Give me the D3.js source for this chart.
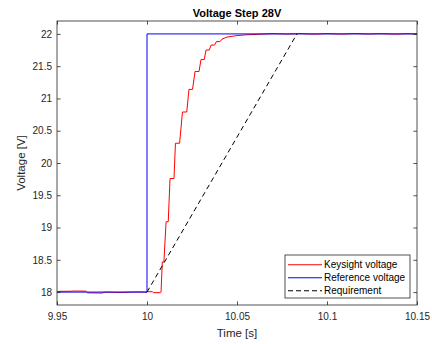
<!DOCTYPE html>
<html>
<head>
<meta charset="utf-8">
<script src="https://cdn.jsdelivr.net/npm/d3@7/dist/d3.min.js"></script>
<style>
  html, body { margin: 0; padding: 0; background: #fff; }
  svg { display: block; font-family: "Liberation Sans", Arial, Helvetica, sans-serif; }
</style>
</head>
<body>
<svg id="chart" width="432" height="344"></svg>
<script>
// Axis ticks
const timeTicks = [9.95, 10, 10.05, 10.1, 10.15];
const timeTickLabels = ["9.95", "10", "10.05", "10.1", "10.15"];
const voltTicks = [18, 18.5, 19, 19.5, 20, 20.5, 21, 21.5, 22];
const voltTickLabels = ["18", "18.5", "19", "19.5", "20", "20.5", "21", "21.5", "22"];

// Measured supply output (Keysight)
const keysightTime = [
  9.95, 9.951, 9.958, 9.958, 9.966, 9.967, 9.975, 9.977, 9.985, 9.99, 9.995, 10.0,
  10.0003, 10.003, 10.0035, 10.0075, 10.0078,
  10.0085, 10.0094, 10.0106, 10.0118, 10.0128, 10.015, 10.0158, 10.0181,
  10.0197, 10.0221, 10.0233, 10.0253, 10.0267, 10.0289, 10.030, 10.0318,
  10.0328, 10.0346, 10.0356, 10.0375, 10.0386, 10.0406, 10.0417, 10.0444,
  10.0489, 10.0544, 10.0628, 10.07, 10.078, 10.085, 10.093, 10.10, 10.108,
  10.115, 10.123, 10.13, 10.138, 10.145, 10.15
];
const keysightVolt = [
  18.0, 18.012, 18.013, 18.016, 18.015, 17.988, 17.985, 18.0, 17.995, 18.0, 18.003, 18.0,
  18.006, 18.006, 17.992, 17.99, 18.0,
  18.468, 18.47, 19.09, 19.09, 19.76, 19.76, 20.306, 20.306,
  20.79, 20.79, 21.14, 21.14, 21.418, 21.418, 21.603, 21.603,
  21.75, 21.75, 21.827, 21.827, 21.881, 21.881, 21.92, 21.95,
  21.97, 21.985, 21.995, 22.004, 21.997, 22.005, 21.996, 22.004, 21.997,
  22.005, 21.998, 22.004, 21.996, 22.003, 22.0
];

// Commanded reference step
const referenceTime = [9.95, 10.0, 10.0, 10.15];
const referenceVolt = [18, 18, 22, 22];

// Slew-rate requirement ramp
const requirementTime = [10.0, 10.0833];
const requirementVolt = [18, 22];

const legendLabels = ["Keysight voltage", "Reference voltage", "Requirement"];

const svg = d3.select("#chart");
const margin = { left: 57, right: 15, top: 21, bottom: 39 };
const W = 432, H = 344;
const x0 = margin.left, x1 = W - margin.right, y0 = margin.top, y1 = H - margin.bottom;

const x = d3.scaleLinear().domain([9.95, 10.15]).range([x0, x1]);
const y = d3.scaleLinear().domain([17.8, 22.2]).range([y1, y0]);

const axisColor = "#262626";
const tickLen = 3.6;

// Plot area background
svg.append("rect").attr("x", x0).attr("y", y0).attr("width", x1 - x0).attr("height", y1 - y0)
  .attr("fill", "#fff");

// Series
svg.append("clipPath").attr("id", "plot-clip")
  .append("rect").attr("x", x0).attr("y", y0).attr("width", x1 - x0).attr("height", y1 - y0);
const plot = svg.append("g").attr("clip-path", "url(#plot-clip)");

const line = d3.line().x(d => x(d[0])).y(d => y(d[1]));

plot.append("path")
  .datum(d3.zip(keysightTime, keysightVolt))
  .attr("d", line).attr("fill", "none").attr("stroke", "#ff0000").attr("stroke-width", 1);

plot.append("path")
  .datum(d3.zip(referenceTime, referenceVolt))
  .attr("d", line).attr("fill", "none").attr("stroke", "#0000ff").attr("stroke-width", 1);

plot.append("path")
  .datum(d3.zip(requirementTime, requirementVolt))
  .attr("d", line).attr("fill", "none").attr("stroke", "#000").attr("stroke-width", 1)
  .attr("stroke-dasharray", "5,3.5");

// Axes (ticks point inward, box on)
const fmtX = d => timeTickLabels[timeTicks.indexOf(d)];
const fmtY = d => voltTickLabels[voltTicks.indexOf(d)];

function styleAxis(g, showText) {
  g.select(".domain").remove();
  g.selectAll(".tick line").attr("stroke", axisColor).attr("stroke-width", 0.8);
  g.selectAll(".tick text").attr("fill", axisColor).attr("font-size", 10);
  if (!showText) g.selectAll(".tick text").remove();
}

svg.append("g").attr("transform", `translate(0,${y1})`)
  .call(d3.axisBottom(x).tickValues(timeTicks).tickFormat(fmtX).tickSizeInner(-tickLen).tickSizeOuter(0).tickPadding(8))
  .call(g => styleAxis(g, true));
svg.append("g").attr("transform", `translate(0,${y0})`)
  .call(d3.axisTop(x).tickValues(timeTicks).tickFormat(fmtX).tickSizeInner(-tickLen).tickSizeOuter(0))
  .call(g => styleAxis(g, false));
svg.append("g").attr("transform", `translate(${x0},0)`)
  .call(d3.axisLeft(y).tickValues(voltTicks).tickFormat(fmtY).tickSizeInner(-tickLen).tickSizeOuter(0).tickPadding(5))
  .call(g => styleAxis(g, true));
svg.append("g").attr("transform", `translate(${x1},0)`)
  .call(d3.axisRight(y).tickValues(voltTicks).tickFormat(fmtY).tickSizeInner(-tickLen).tickSizeOuter(0))
  .call(g => styleAxis(g, false));

svg.append("rect").attr("x", x0).attr("y", y0).attr("width", x1 - x0).attr("height", y1 - y0)
  .attr("fill", "none").attr("stroke", axisColor).attr("stroke-width", 0.8);

// Titles
svg.append("text").attr("x", (x0 + x1) / 2).attr("y", 17).attr("text-anchor", "middle")
  .attr("font-size", 11).attr("font-weight", "bold").attr("fill", "#000").text("Voltage Step 28V");
svg.append("text").attr("x", (x0 + x1) / 2).attr("y", 337).attr("text-anchor", "middle")
  .attr("font-size", 11.5).attr("fill", axisColor).text("Time [s]");
svg.append("text").attr("transform", `translate(25,${(y0 + y1) / 2}) rotate(-90)`)
  .attr("text-anchor", "middle").attr("font-size", 11.5).attr("fill", axisColor).text("Voltage [V]");

// Legend
const legend = svg.append("g").attr("transform", "translate(285,255)");
legend.append("rect").attr("x", 0).attr("y", 0).attr("width", 125).attr("height", 43)
  .attr("fill", "#fff").attr("stroke", axisColor).attr("stroke-width", 0.8);
const legendColors = ["#ff0000", "#0000ff", "#000000"];
const legendDashes = ["none", "none", "5,3"];
legendLabels.forEach((label, i) => {
  const ly = 9.8 + i * 13;
  legend.append("path")
    .attr("d", `M3,${ly}H37`)
    .attr("fill", "none")
    .attr("stroke", legendColors[i]).attr("stroke-width", 1.1)
    .attr("stroke-dasharray", legendDashes[i]);
  legend.append("text").attr("x", 39).attr("y", ly + 3.5).attr("font-size", 10)
    .attr("fill", "#000").text(label);
});
</script>
</body>
</html>
